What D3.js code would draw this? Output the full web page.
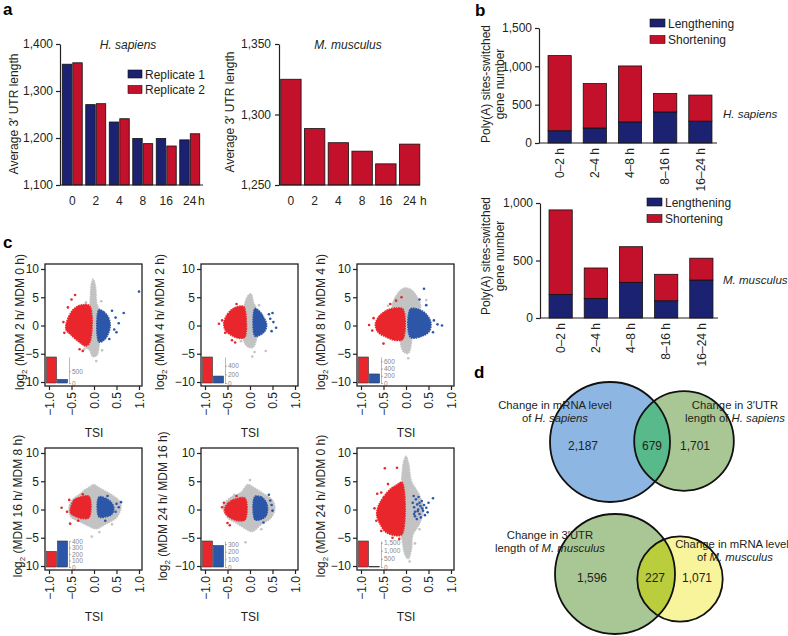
<!DOCTYPE html>
<html><head><meta charset="utf-8">
<script src="https://cdn.jsdelivr.net/npm/d3@7"></script>
<style>body{margin:0;background:#fff}svg{display:block;font-family:"Liberation Sans",Arial,sans-serif}</style>
</head><body><svg id="c" width="788" height="636"></svg>
<script>
// ---------------- DATA ----------------
const timePoints = ["0","2","4","8","16","24"];
const replicates = ["Replicate 1","Replicate 2"];
const humanRep1 = [1357,1271,1234,1199,1199,1196];
const humanRep2 = [1360,1273,1241,1188,1183,1209];
const mouseUtr  = [1325,1290,1280,1274,1265,1279];
const humanUtrTicks = [1100,1200,1300,1400];
const mouseUtrTicks = [1250,1300,1350];

const intervals = ["0–2 h","2–4 h","4–8 h","8–16 h","16–24 h"];
const switchKeys = ["Lengthening","Shortening"];
const humanLengthening = [160,195,275,405,285];
const humanShortening  = [980,580,730,240,340];
const mouseLengthening = [205,170,310,150,330];
const mouseShortening  = [735,265,310,230,190];
const humanSwitchTicks = [0,500,1000,1500];
const mouseSwitchTicks = [0,500,1000];

const scatterLabels = ["MDM 2 h/ MDM 0 h","MDM 4 h/ MDM 2 h","MDM 8 h/ MDM 4 h","MDM 16 h/ MDM 8 h","MDM 24 h/ MDM 16 h","MDM 24 h/ MDM 0 h"];
const tsiTicks = [-1,-0.5,0,0.5,1];
const logTicks = [-10,-5,0,5,10];
const insetShort = [1100,600,720,240,340,1600];
const insetLong  = [150,160,250,400,280,30];
const insetTicks = [[0,500],[0,200,400],[0,200,400,600],[0,100,200,300,400],[0,100,200,300],[0,500,1000,1500]];

// cloud outlines [TSI, log2 ratio] and outlying points, per panel
const grey1 = [[-0.12,3],[-0.06,7.2],[-0.02,8.2],[0.03,7],[0.06,4],[0.12,2.5],[0.12,-3],[0.06,-5.3],[-0.03,-5.5],[-0.1,-4.3],[-0.2,-3.8],[-0.2,3.5]];
const red1  = [[-0.62,0.2],[-0.56,1.6],[-0.45,2.9],[-0.3,3.6],[-0.1,3.5],[-0.09,-2.9],[-0.18,-3.6],[-0.35,-2.8],[-0.52,-1.6],[-0.62,-0.8]];
const blue1 = [[0.11,2.8],[0.22,2.4],[0.31,1.6],[0.36,0.2],[0.32,-1.4],[0.22,-2.6],[0.11,-2.9]];
const redPts1  = [[-0.5,4.6],[-0.42,5.4],[-0.68,0.6],[-0.32,-4.2],[-0.66,-1.3],[-0.58,3.2],[-0.25,-4.5]];
const bluePts1 = [[0.48,1.4],[0.66,2.2],[0.45,-0.7],[0.55,0.4],[0.40,2.6],[1.0,6],[0.34,-2.4],[0.5,-1.2]];
const greyPts1 = [[-0.22,-4.2],[0.18,-4.4],[0.16,4.3],[-0.18,4.1],[0.05,-6.3]];

const grey2 = [[-0.14,2.8],[-0.05,5.2],[0.02,5.6],[0.08,4],[0.14,3],[0.14,-2.5],[0.06,-3.9],[-0.06,-3.7],[-0.15,-2.4]];
const red2  = [[-0.58,0.5],[-0.5,2],[-0.35,3.1],[-0.15,3.4],[-0.11,2.8],[-0.11,-2],[-0.2,-2.3],[-0.4,-1.8],[-0.55,-0.8]];
const blue2 = [[0.11,3],[0.2,2.6],[0.3,1.5],[0.37,0.2],[0.33,-1.0],[0.22,-1.7],[0.11,-1.9]];
const redPts2  = [[-0.69,0.3],[-0.62,0.9],[-0.33,-3.0],[-0.4,-2.6],[-0.3,3.8],[-0.55,-1.3]];
const bluePts2 = [[0.45,1.2],[0.52,0.6],[0.58,-0.4],[0.48,-1],[0.42,2.0],[0.5,2.2]];
const greyPts2 = [[0.05,-5.5],[0.1,-4.7],[0.35,-4.5],[-0.2,-2.8],[0.2,3.6],[-0.25,2.8]];

const grey3 = [[-0.3,3.2],[-0.22,5.2],[-0.05,6.6],[0.1,6.4],[0.25,5],[0.32,3.2],[0.12,2],[0.12,-3],[0.05,-4.9],[-0.05,-4.7],[-0.12,-3.2],[-0.1,2.5]];
const red3  = [[-0.68,0.2],[-0.6,1.6],[-0.4,2.8],[-0.2,3.1],[-0.07,2.9],[-0.07,-2.4],[-0.25,-2.6],[-0.45,-2.0],[-0.62,-1.2]];
const blue3 = [[0.1,2.9],[0.3,2.8],[0.45,2.0],[0.55,0.6],[0.52,-1],[0.35,-1.9],[0.1,-2.1]];
const redPts3  = [[-0.82,0.1],[-0.75,-0.9],[-0.5,-3.2],[-0.35,3.8],[-0.1,5.0],[-0.22,4.4],[-0.72,1.3]];
const bluePts3 = [[0.4,6.5],[0.3,4.6],[0.62,0.9],[0.7,0.2],[0.8,0.0],[0.6,-1.2],[0.45,3.6]];
const greyPts3 = [[0.05,-5.8],[-0.4,3.5],[0.45,4.5]];

const grey4 = [[-0.5,1.5],[-0.3,2.8],[-0.1,4.0],[0.0,4.4],[0.12,3.8],[0.35,2.8],[0.55,1.6],[0.6,0.5],[0.5,-1.4],[0.25,-2.6],[0.05,-3.4],[-0.1,-3.0],[-0.3,-2.2],[-0.5,-1.4],[-0.56,0]];
const red4  = [[-0.52,0.2],[-0.45,1.6],[-0.3,2.2],[-0.11,2.3],[-0.11,-1.4],[-0.25,-1.6],[-0.42,-1.2],[-0.52,-0.6]];
const blue4 = [[0.11,2.2],[0.25,2.0],[0.38,1.3],[0.44,0.3],[0.4,-0.8],[0.25,-1.3],[0.11,-1.3]];
const redPts4  = [[-0.72,0.3],[-0.55,1.7],[-0.53,-2.5],[-0.6,-0.4],[-0.35,-2.0],[-0.25,2.7]];
const bluePts4 = [[0.5,1.0],[0.55,0.4],[0.6,1.3],[0.25,-2.0],[0.48,-0.4],[0.3,2.4]];
const greyPts4 = [[-0.05,-4.8],[0.12,-4.0],[0.4,-2.6],[-0.2,3.4]];

const grey5 = [[-0.6,0.6],[-0.45,2.0],[-0.2,3.0],[-0.05,4.4],[0.1,3.8],[0.3,2.8],[0.5,1.6],[0.55,0],[0.45,-1.6],[0.25,-2.6],[0.05,-3.9],[-0.1,-3.4],[-0.3,-2.4],[-0.5,-1.4]];
const red5  = [[-0.56,0.2],[-0.48,1.2],[-0.3,1.9],[-0.11,2.0],[-0.11,-1.8],[-0.25,-2.0],[-0.45,-1.4],[-0.55,-0.6]];
const blue5 = [[0.11,2.3],[0.25,2.2],[0.35,1.4],[0.39,0.2],[0.35,-1.2],[0.22,-1.8],[0.11,-1.8]];
const redPts5  = [[-0.62,0.4],[-0.5,-2.4],[-0.45,-2.8],[-0.3,2.4],[-0.58,1.2]];
const bluePts5 = [[0.45,1.6],[0.48,0.8],[0.42,2.6],[0.5,-0.2],[0.3,-2.3]];
const greyPts5 = [[-0.1,-5.8],[0.0,5.2],[0.25,-3.5],[-0.35,2.6]];

const grey6 = [[-0.1,4.5],[-0.05,8.5],[0.0,9.4],[0.06,8],[0.12,5],[0.3,2.5],[0.38,0],[0.3,-2.5],[0.15,-4.5],[0.12,-7],[0.05,-8.7],[-0.02,-8],[-0.09,-5],[-0.1,-4]];
const red6  = [[-0.62,0.5],[-0.5,2.2],[-0.35,3.6],[-0.2,4.4],[-0.09,4.8],[-0.09,-4.4],[-0.25,-4.6],[-0.45,-4.0],[-0.58,-2.5],[-0.65,-1]];
const blue6 = null;
const redPts6  = [[-0.47,7.3],[-0.2,7.4],[-0.64,2.8],[-0.7,0.2],[-0.66,-2],[-0.55,-3.8],[-0.3,-5],[-0.15,-5.2],[-0.4,4.5],[-0.55,3]];
const bluePts6 = [[0.15,1.2],[0.18,0.4],[0.2,-0.4],[0.22,1.8],[0.25,0.9],[0.27,0],[0.3,-0.8],[0.32,0.6],[0.35,1.5],[0.38,-0.2],[0.2,-1.2],[0.24,-1.7],[0.28,2.2],[0.33,-1.4],[0.4,0.8],[0.45,0.3],[0.42,-1],[0.5,1.2],[0.6,2.0],[0.17,2.4],[0.3,1.2],[0.26,-0.3],[0.36,0.2],[0.48,-0.5],[0.18,-0.8]];
const greyPts6 = [[0.2,-6],[0.08,-9.2],[0.3,-3.5]];

const humanVennCounts = [2187,679,1701];   // mRNA only, both, 3'UTR only
const mouseVennCounts = [1596,227,1071];   // 3'UTR only, both, mRNA only

// ---------------- DRAW ----------------
const svg = d3.select("#c");
const NAVY = "#1c2272", CRIMSON = "#c3102b";
const SRED = "#e8262b", SBLUE = "#2c56a8", SGREY = "#c3c3c3";
const INK = "#231f20";
const fmt = d3.format(",");

function letter(t,x,y){ svg.append("text").attr("x",x).attr("y",y).attr("font-size",17).attr("font-weight","bold").attr("fill","#000").text(t); }
letter("a",3,15); letter("b",475,16); letter("c",3,248); letter("d",474,378);

function styleAxis(g){
  g.select(".domain").attr("stroke",INK).attr("stroke-width",1.2);
  g.selectAll(".tick line").attr("stroke",INK).attr("stroke-width",1.2);
  g.selectAll(".tick text").attr("fill",INK).attr("font-size",12);
}
function rotLabel(g,x,y,lines,size){
  const t = g.append("text").attr("transform",`translate(${x},${y}) rotate(-90)`).attr("text-anchor","middle").attr("font-size",size).attr("fill",INK);
  lines.forEach((l,i)=>t.append("tspan").attr("x",0).attr("dy",i===0?0:size*1.15).text(l));
  return t;
}

// ---- panel a left (H. sapiens) ----
{
  const g = svg.append("g");
  const y = d3.scaleLinear().domain([1100,1400]).range([185,44]);
  const x = d3.scaleBand().domain(timePoints).range([60.5,201.5]).paddingInner(0.15).paddingOuter(0.075);
  const xi = d3.scaleBand().domain(replicates).range([0,x.bandwidth()]).paddingInner(0.1);
  const rows = timePoints.map((t,i)=>({t, v:[humanRep1[i],humanRep2[i]]}));
  const cols = [NAVY,CRIMSON];
  rows.forEach(r=>{
    replicates.forEach((rp,j)=>{
      g.append("rect").attr("x",x(r.t)+xi(rp)).attr("width",xi.bandwidth())
        .attr("y",y(r.v[j])).attr("height",y(1100)-y(r.v[j]))
        .attr("fill",cols[j]).attr("stroke","#111").attr("stroke-width",0.8);
    });
  });
  const ax = g.append("g").attr("transform","translate(60,0)")
    .call(d3.axisLeft(y).tickValues(humanUtrTicks).tickFormat(fmt).tickSize(4).tickSizeOuter(0).tickPadding(3));
  styleAxis(ax);
  g.append("line").attr("x1",60).attr("x2",203).attr("y1",185).attr("y2",185).attr("stroke",INK).attr("stroke-width",1.2);
  timePoints.forEach(t=>g.append("text").attr("x",x(t)+x.bandwidth()/2).attr("y",205).attr("text-anchor","middle").attr("font-size",12).attr("fill",INK).text(t));
  g.append("text").attr("x",198).attr("y",205).attr("font-size",12).attr("fill",INK).text("h");
  rotLabel(g,18,114,["Average 3′ UTR length"],12);
  g.append("text").attr("x",128).attr("y",49).attr("text-anchor","middle").attr("font-size",12).attr("font-style","italic").attr("fill",INK).text("H. sapiens");
  replicates.forEach((rp,j)=>{
    g.append("rect").attr("x",128).attr("y",70+j*15.5).attr("width",14).attr("height",8).attr("fill",cols[j]).attr("stroke","#111").attr("stroke-width",0.6);
    g.append("text").attr("x",145).attr("y",78.5+j*15.5).attr("font-size",12).attr("fill",INK).text(rp);
  });
}
// ---- panel a right (M. musculus) ----
{
  const g = svg.append("g");
  const y = d3.scaleLinear().domain([1250,1350]).range([185,44]);
  const x = d3.scaleBand().domain(timePoints).range([279.5,421]).paddingInner(0.14).paddingOuter(0.05);
  timePoints.forEach((t,i)=>{
    g.append("rect").attr("x",x(t)).attr("width",x.bandwidth()).attr("y",y(mouseUtr[i])).attr("height",y(1250)-y(mouseUtr[i]))
      .attr("fill",CRIMSON).attr("stroke","#111").attr("stroke-width",0.8);
  });
  const ax = g.append("g").attr("transform","translate(279,0)")
    .call(d3.axisLeft(y).tickValues(mouseUtrTicks).tickFormat(fmt).tickSize(4).tickSizeOuter(0).tickPadding(4));
  styleAxis(ax);
  g.append("line").attr("x1",279).attr("x2",420).attr("y1",185).attr("y2",185).attr("stroke",INK).attr("stroke-width",1.2);
  timePoints.forEach(t=>g.append("text").attr("x",x(t)+x.bandwidth()/2).attr("y",205).attr("text-anchor","middle").attr("font-size",12).attr("fill",INK).text(t));
  g.append("text").attr("x",420).attr("y",205).attr("font-size",12).attr("fill",INK).text("h");
  rotLabel(g,234,112,["Average 3′ UTR length"],12);
  g.append("text").attr("x",348).attr("y",49).attr("text-anchor","middle").attr("font-size",12).attr("font-style","italic").attr("fill",INK).text("M. musculus");
}

// ---- panel b ----
function switchChart(cfg){
  const g = svg.append("g");
  const y = d3.scaleLinear().domain([0,cfg.max]).range([cfg.base,cfg.topY]);
  const x = d3.scaleBand().domain(intervals).range([cfg.ax+2,cfg.ax+180]).paddingInner(0.34).paddingOuter(0.2);
  const rows = intervals.map((iv,i)=>({iv, Lengthening:cfg.len[i], Shortening:cfg.sho[i]}));
  const stack = d3.stack().keys(switchKeys)(rows);
  const cols = [NAVY,CRIMSON];
  stack.forEach((layer,k)=>{
    layer.forEach(d=>{
      g.append("rect").attr("x",x(d.data.iv)).attr("width",x.bandwidth()).attr("y",y(d[1])).attr("height",y(d[0])-y(d[1]))
        .attr("fill",cols[k]).attr("stroke","#111").attr("stroke-width",0.8);
    });
  });
  const ax = g.append("g").attr("transform",`translate(${cfg.ax},0)`)
    .call(d3.axisLeft(y).tickValues(cfg.ticks).tickFormat(fmt).tickSize(4).tickSizeOuter(0).tickPadding(3));
  styleAxis(ax);
  g.append("line").attr("x1",cfg.ax).attr("x2",cfg.ax+178).attr("y1",cfg.base).attr("y2",cfg.base).attr("stroke",INK).attr("stroke-width",1.2);
  intervals.forEach(iv=>{
    g.append("text").attr("transform",`translate(${x(iv)+x.bandwidth()/2},${cfg.base+5}) rotate(-90)`)
      .attr("text-anchor","end").attr("dy","0.35em").attr("font-size",12).attr("fill",INK).text(iv);
  });
  rotLabel(g,cfg.labX,cfg.labY,["Poly(A) sites-switched","gene number"],12);
  g.append("text").attr("x",723).attr("y",cfg.spY).attr("font-size",11.5).attr("font-style","italic").attr("fill",INK).text(cfg.species);
  switchKeys.forEach((k,j)=>{
    g.append("rect").attr("x",cfg.legX).attr("y",cfg.legY+j*16.5).attr("width",15).attr("height",8).attr("fill",cols[j]).attr("stroke","#111").attr("stroke-width",0.6);
    g.append("text").attr("x",cfg.legX+18).attr("y",cfg.legY+8.5+j*16.5).attr("font-size",12).attr("fill",INK).text(k);
  });
}
switchChart({ax:539,base:143,topY:28,max:1500,ticks:humanSwitchTicks,len:humanLengthening,sho:humanShortening,labX:490,labY:84,species:"H. sapiens",spY:118,legX:650,legY:19});
switchChart({ax:540,base:318,topY:203,max:1000,ticks:mouseSwitchTicks,len:mouseLengthening,sho:mouseShortening,labX:490,labY:256,species:"M. musculus",spY:284,legX:647,legY:198});

// ---- panel c ----
const scatterGeom = [
  {left:45,top:264},{left:201,top:264},{left:357,top:264},
  {left:45,top:448},{left:201,top:448},{left:357,top:448}];
const labelX = [20,160,321,18,163,321];
const greys=[grey1,grey2,grey3,grey4,grey5,grey6], reds=[red1,red2,red3,red4,red5,red6], blues=[blue1,blue2,blue3,blue4,blue5,blue6];
const redPts=[redPts1,redPts2,redPts3,redPts4,redPts5,redPts6], bluePts=[bluePts1,bluePts2,bluePts3,bluePts4,bluePts5,bluePts6], greyPts=[greyPts1,greyPts2,greyPts3,greyPts4,greyPts5,greyPts6];

scatterGeom.forEach((p,i)=>{
  const g = svg.append("g");
  const W=97,H=122;
  const x = d3.scaleLinear().domain([-1,1]).range([p.left+4,p.left+94]);
  const y = d3.scaleLinear().domain([-10,10]).range([p.top+118,p.top+5]);
  const line = d3.line().x(d=>x(d[0])).y(d=>y(d[1])).curve(d3.curveCatmullRomClosed.alpha(0.5));
  const poly=(pts,col)=>{ if(pts) g.append("path").attr("d",line(pts)).attr("fill",col).attr("stroke",col).attr("stroke-width",1.6).attr("stroke-dasharray","1.6,0.8"); };
  const dots=(pts,col)=>pts.forEach(d=>g.append("circle").attr("cx",x(d[0])).attr("cy",y(d[1])).attr("r",1.3).attr("fill",col));
  poly(greys[i],SGREY); dots(greyPts[i],SGREY);
  poly(reds[i],SRED); poly(blues[i],SBLUE);
  dots(redPts[i],SRED); dots(bluePts[i],SBLUE);
  // inset histogram
  const base = p.top+119;
  const iy = d3.scaleLinear().domain([0,Math.max(insetShort[i],insetLong[i])]).range([base,base-26]);
  g.append("rect").attr("x",p.left+1.5).attr("width",10).attr("y",iy(insetShort[i])).attr("height",base-iy(insetShort[i])).attr("fill",SRED).attr("stroke","#333").attr("stroke-width",0.6);
  g.append("rect").attr("x",p.left+12.5).attr("width",10).attr("y",iy(insetLong[i])).attr("height",base-iy(insetLong[i])).attr("fill",SBLUE).attr("stroke","#333").attr("stroke-width",0.6);
  const ia = g.append("g").attr("transform",`translate(${p.left+24},0)`)
    .call(d3.axisRight(iy).tickValues(insetTicks[i]).tickFormat(fmt).tickSize(2).tickSizeOuter(0).tickPadding(1));
  ia.select(".domain").attr("stroke","#888").attr("stroke-width",0.6);
  ia.selectAll(".tick line").attr("stroke","#888").attr("stroke-width",0.6);
  ia.selectAll(".tick text").attr("fill","#888").attr("font-size",6.5);
  // frame
  g.append("rect").attr("x",p.left).attr("y",p.top).attr("width",W).attr("height",H).attr("fill","none").attr("stroke",INK).attr("stroke-width",1.3);
  // axes
  const ay = g.append("g").attr("transform",`translate(${p.left},0)`)
    .call(d3.axisLeft(y).tickValues(logTicks).tickSize(4).tickSizeOuter(0).tickPadding(2));
  styleAxis(ay); ay.select(".domain").remove();
  const axb = g.append("g").attr("transform",`translate(0,${p.top+H})`)
    .call(d3.axisBottom(x).tickValues(tsiTicks).tickFormat(d3.format(".1f")).tickSize(4).tickSizeOuter(0));
  styleAxis(axb); axb.select(".domain").remove();
  axb.selectAll(".tick text").attr("transform","rotate(-90)").attr("x",-6).attr("y",0).attr("dy","0.35em").attr("text-anchor","end");
  g.append("text").attr("x",p.left+49).attr("y",p.top+H+51).attr("text-anchor","middle").attr("font-size",12).attr("fill",INK).text("TSI");
  const lt = g.append("text").attr("transform",`translate(${labelX[i]},${p.top+58}) rotate(-90)`).attr("text-anchor","middle").attr("dy","0.35em").attr("font-size",12).attr("fill",INK);
  lt.append("tspan").text("log");
  lt.append("tspan").attr("font-size",8).attr("dy",3).text("2");
  lt.append("tspan").attr("dy",-3).text(" ("+scatterLabels[i]+")");
});

// ---- panel d (Venn) ----
function venn(cfg){
  const g = svg.append("g");
  const totA = cfg.counts[0]+cfg.counts[1], totB = cfg.counts[1]+cfg.counts[2];
  const r = d3.scaleLinear().domain([0,Math.max(totA,totB)]).range([0,60]);
  const id = "clip"+cfg.key;
  g.append("clipPath").attr("id",id).append("circle").attr("cx",cfg.ca[0]).attr("cy",cfg.ca[1]).attr("r",r(totA));
  g.append("circle").attr("cx",cfg.ca[0]).attr("cy",cfg.ca[1]).attr("r",r(totA)).attr("fill",cfg.colA);
  g.append("circle").attr("cx",cfg.cb[0]).attr("cy",cfg.cb[1]).attr("r",r(totB)).attr("fill",cfg.colB);
  g.append("circle").attr("cx",cfg.cb[0]).attr("cy",cfg.cb[1]).attr("r",r(totB)).attr("fill",cfg.colAB).attr("clip-path",`url(#${id})`);
  g.append("circle").attr("cx",cfg.ca[0]).attr("cy",cfg.ca[1]).attr("r",r(totA)).attr("fill","none").attr("stroke","#111").attr("stroke-width",1.8);
  g.append("circle").attr("cx",cfg.cb[0]).attr("cy",cfg.cb[1]).attr("r",r(totB)).attr("fill","none").attr("stroke","#111").attr("stroke-width",1.8);
  cfg.counts.forEach((c,i)=>g.append("text").attr("x",cfg.numX[i]).attr("y",cfg.numY).attr("text-anchor","middle").attr("font-size",12).attr("fill",INK).text(fmt(c)));
  cfg.labels.forEach(L=>{
    const t = g.append("text").attr("x",L.x).attr("y",L.y).attr("text-anchor","middle").attr("font-size",11.3).attr("fill",INK);
    L.parts.forEach(pt=>t.append("tspan").attr("font-style",pt[1]?"italic":"normal").text(pt[0]));
  });
}
venn({key:"h",counts:humanVennCounts,ca:[610,442],cb:[684,441],colA:"#8db6e3",colB:"#a9c795",colAB:"#58b98b",
  numX:[583,652,695],numY:450,
  labels:[{x:555,y:409,parts:[["Change in mRNA level",0]]},{x:555,y:422,parts:[["of ",0],["H. sapiens",1]]},
          {x:735,y:409,parts:[["Change in 3′UTR",0]]},{x:735,y:422,parts:[["length of ",0],["H. sapiens",1]]}]});
venn({key:"m",counts:mouseVennCounts,ca:[615,574],cb:[680,579],colA:"#a9c795",colB:"#f8f49c",colAB:"#b9cd3d",
  numX:[592,655,697],numY:582,
  labels:[{x:550,y:539,parts:[["Change in 3′UTR",0]]},{x:550,y:552,parts:[["length of ",0],["M. musculus",1]]},
          {x:732,y:548,parts:[["Change in mRNA level",0]]},{x:735,y:561,parts:[["of ",0],["M. musculus",1]]}]});
</script></body></html>
